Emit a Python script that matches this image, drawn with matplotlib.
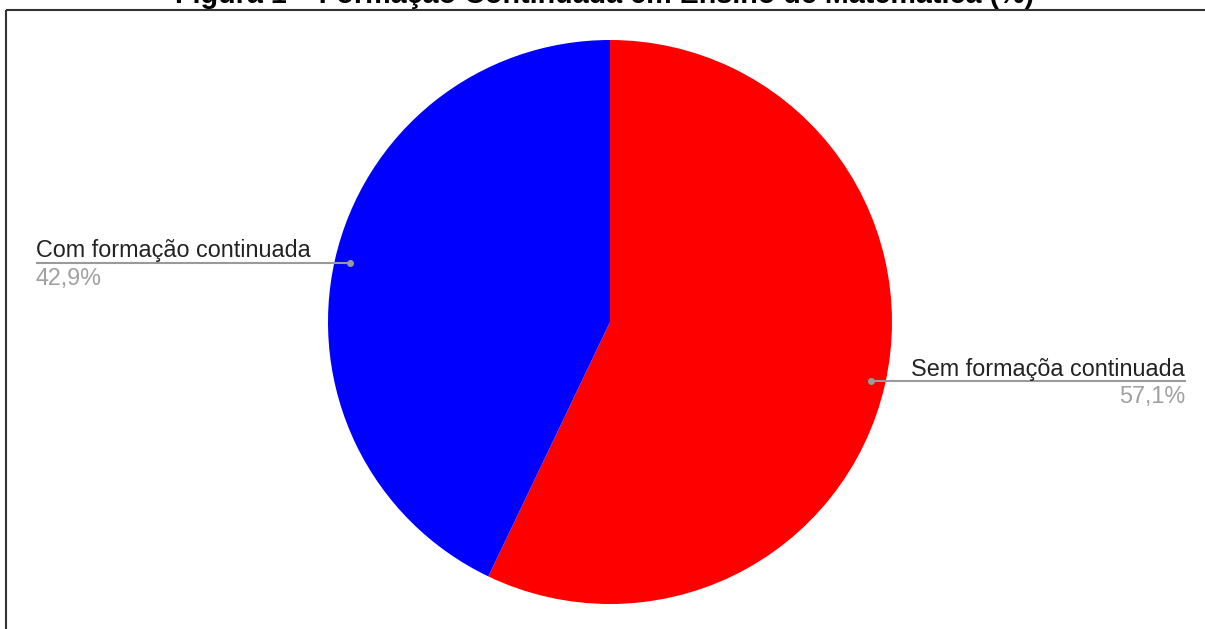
import matplotlib.pyplot as plt

# dados
categorias = ['Sem formaçõa continuada', 'Com formação continuada']
valores = [57.1, 42.9]
rotulos_pct = ['57,1%', '42,9%']
cores = ['#ff0000', '#0000ff']
titulo = 'Figura 1 – Formação Continuada em Ensino de Matemática (%)'

W, H = 1205, 629
fig = plt.figure(figsize=(W / 100, H / 100), dpi=100)
ax = fig.add_axes([0, 0, 1, 1])

plt.rcParams['font.family'] = ['Liberation Sans', 'DejaVu Sans']

# pizza: centro e raio em pixels (y para cima)
cx, cy, r = 610, H - 322, 282
ax.pie(valores, colors=cores, startangle=90, counterclock=False,
       center=(cx, cy), radius=r, frame=True,
       wedgeprops=dict(linewidth=0))
ax.set_xlim(0, W)
ax.set_ylim(0, H)
ax.set_aspect('equal')
ax.axis('off')

# moldura (esquerda e topo)
ax.plot([6, 6], [0, H - 10], color='#333333', lw=1.5, solid_capstyle='butt')
ax.plot([6, W], [H - 10, H - 10], color='#333333', lw=1.5, solid_capstyle='butt')

# titulo, cortado no topo como no original
ax.text(605, H - 3, titulo, ha='center', va='baseline', fontsize=20.7,
        fontweight='bold', color='black', clip_on=False)

cinza_linha = '#9a9a9a'
cinza_texto = '#a0a0a0'
fs = 16.8

# rotulo da esquerda
ax.plot([37, 350], [H - 263, H - 263], color=cinza_linha, lw=1.5)
ax.plot(350, H - 263, 'o', color=cinza_linha, ms=4)
ax.text(36, H - 257, categorias[1], ha='left', va='baseline', fontsize=fs,
        color='#222222')
ax.text(36, H - 285, rotulos_pct[1], ha='left', va='baseline', fontsize=fs,
        color=cinza_texto)

# rotulo da direita
ax.plot([871, 1185], [H - 381, H - 381], color=cinza_linha, lw=1.5)
ax.plot(871, H - 381, 'o', color=cinza_linha, ms=4)
ax.text(1185, H - 376, categorias[0], ha='right', va='baseline', fontsize=fs,
        color='#222222')
ax.text(1185, H - 403, rotulos_pct[0], ha='right', va='baseline', fontsize=fs,
        color=cinza_texto)

fig.savefig('out.png', dpi=100)
